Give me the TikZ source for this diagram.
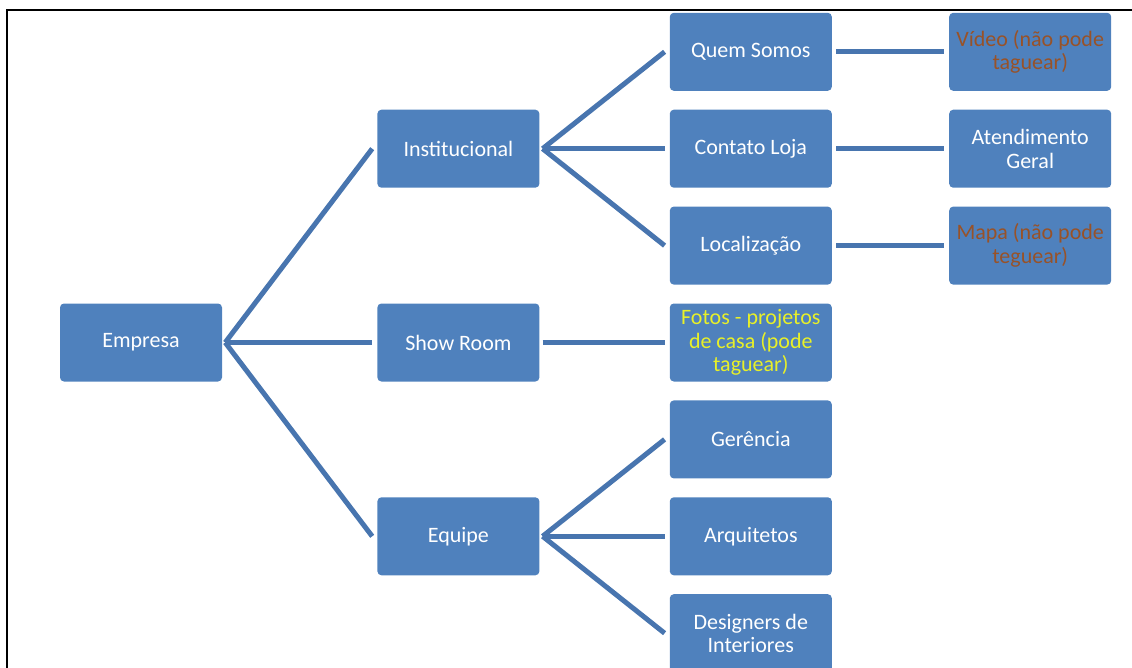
\documentclass[tikz,border=0pt]{standalone}
\usepackage{fontspec}
\setmainfont{Carlito}
\usetikzlibrary{positioning}
\definecolor{boxblue}{RGB}{79,129,189}
\definecolor{lineblue}{RGB}{72,117,175}
\definecolor{brownish}{RGB}{152,82,40}
\definecolor{yellowish}{RGB}{232,240,40}
\begin{document}
\begin{tikzpicture}[x=1pt, y=-1pt, node distance=18.5pt and 130pt,
  bluebox/.style={rectangle, rounded corners=4pt, fill=boxblue, text=white, align=center,
    minimum width=162pt, minimum height=78pt, inner sep=2pt, font=\fontsize{22}{23.5}\selectfont},
  link/.style={draw=lineblue, line width=5pt},
  ]
  \useasboundingbox (0,0) rectangle (1132,668);
  \draw [line width=2.8pt] (1132,10) -- (7,10) -- (7,668);

  \node [bluebox] (empresa) at (141,342.5) {Empresa};
  \node [bluebox] (showroom) [right=155pt of empresa] {Show Room};
  \node [bluebox, text=yellowish] (fotos) [right=of showroom] {Fotos - projetos\\de casa (pode\\taguear)};
  \node [bluebox] (localizacao) [above=of fotos] {Localização};
  \node [bluebox] (contato) [above=of localizacao] {Contato Loja};
  \node [bluebox] (quem) [above=of contato] {Quem Somos};
  \node [bluebox] (gerencia) [below=of fotos] {Gerência};
  \node [bluebox] (arquitetos) [below=of gerencia] {Arquitetos};
  \node [bluebox] (designers) [below=of arquitetos] {Designers de\\Interiores};
  \node [bluebox] (institucional) [left=of contato] {Institucional};
  \node [bluebox] (equipe) [left=of arquitetos] {Equipe};
  \node [bluebox, text=brownish] (video) [right=117pt of quem] {Vídeo (não pode\\taguear)};
  \node [bluebox] (atendimento) [right=117pt of contato] {Atendimento\\Geral};
  \node [bluebox, text=brownish] (mapa) [right=117pt of localizacao] {Mapa (não pode\\teguear)};

  % level 1
  \draw [link] ([xshift=3pt]empresa.east) -- ([xshift=-5pt]institucional.west);
  \draw [link] ([xshift=3pt]empresa.east) -- ([xshift=-5pt]showroom.west);
  \draw [link] ([xshift=3pt]empresa.east) -- ([xshift=-5pt]equipe.west);
  % level 2
  \draw [link] ([xshift=3pt]institucional.east) -- ([xshift=-5pt]quem.west);
  \draw [link] ([xshift=3pt]institucional.east) -- ([xshift=-5pt]contato.west);
  \draw [link] ([xshift=3pt]institucional.east) -- ([xshift=-5pt]localizacao.west);
  \draw [link] ([xshift=3pt]showroom.east) -- ([xshift=-5pt]fotos.west);
  \draw [link] ([xshift=3pt]equipe.east) -- ([xshift=-5pt]gerencia.west);
  \draw [link] ([xshift=3pt]equipe.east) -- ([xshift=-5pt]arquitetos.west);
  \draw [link] ([xshift=3pt]equipe.east) -- ([xshift=-5pt]designers.west);
  % level 3
  \draw [link] ([xshift=4pt]quem.east) -- ([xshift=-5pt]video.west);
  \draw [link] ([xshift=4pt]contato.east) -- ([xshift=-5pt]atendimento.west);
  \draw [link] ([xshift=4pt]localizacao.east) -- ([xshift=-5pt]mapa.west);
\end{tikzpicture}
\end{document}
